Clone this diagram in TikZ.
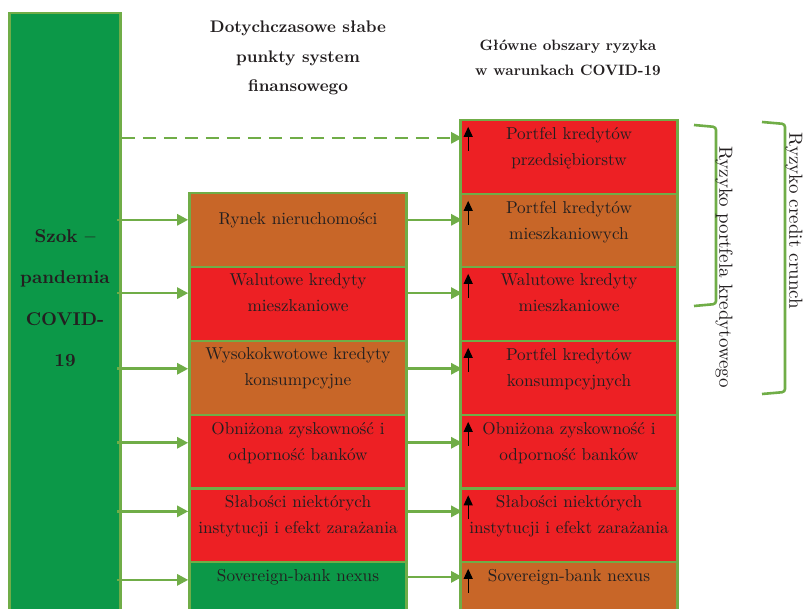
\documentclass[tikz,border=0pt]{standalone}
\usepackage{fontspec}
\setmainfont{lmroman10-regular}[Extension=.otf,BoldFont=lmroman10-bold]
\usepackage{tikz}
\usetikzlibrary{positioning,arrows.meta}
\definecolor{RiskRed}{HTML}{ED2024}
\definecolor{RiskOrange}{HTML}{C86628}
\definecolor{ShockGreen}{HTML}{0C9848}
\definecolor{FrameGreen}{HTML}{70AD47}
\definecolor{InkGray}{HTML}{231F20}
\tikzset{
  cellbox/.style={draw=FrameGreen,line width=2.6pt,
    minimum width=217pt,minimum height=73.7pt,inner sep=0pt},
  redcell/.style={cellbox,fill=RiskRed},
  orgcell/.style={cellbox,fill=RiskOrange},
  grncell/.style={cellbox,fill=ShockGreen},
  celltext/.style={font=\fontsize{17.2}{26}\selectfont,text=InkGray,
    align=center,inner sep=0pt},
  shockbar/.style={draw=FrameGreen,fill=ShockGreen,line width=2.6pt,
    minimum width=111pt,minimum height=696pt,inner sep=0pt},
  shocktext/.style={font=\fontsize{18.5}{41.5}\selectfont\bfseries,
    text=InkGray,align=center,inner sep=0pt},
  headA/.style={font=\fontsize{16.8}{29.5}\selectfont\bfseries,
    text=InkGray,align=center,inner sep=0pt},
  headB/.style={font=\fontsize{15}{25}\selectfont\bfseries,
    text=InkGray,align=center,inner sep=0pt},
  sidetext/.style={font=\fontsize{19}{22}\selectfont,text=InkGray,
    rotate=-90,inner sep=0pt},
  flow/.style={draw=FrameGreen,line width=2.6pt,
    -{Triangle[length=11pt,width=11pt]}},
  flowdash/.style={flow,dash pattern=on 13pt off 8pt},
  upmark/.style={draw=black,line width=1.2pt,
    -{Triangle[length=10pt,width=9pt]}},
  brace/.style={draw=FrameGreen,line width=2.6pt,rounded corners=3pt},
}
\begin{document}
\begin{tikzpicture}[x=1pt,y=-1pt]
  \useasboundingbox (0,0) rectangle (804,609);
  \fill[white] (0,0) rectangle (804,609);
  \clip (0,0) rectangle (804,609);
  % headers
  \node[headA] (hd1) at (298,58) {Dotychczasowe słabe\\punkty system\\finansowego};
  \node[headB] (hd2) at (568,57.5) {Główne obszary ryzyka\\w warunkach COVID-19};
  % shock column
  \node[shockbar] (szok) at (65,361) {};
  \node[shocktext] (szokt) at (65,298) {Szok –\\pandemia\\COVID-\\19};
  % weak points
  \node[orgcell] (m1) at (298,230) {};
  \node[redcell] (m2) at (298,304) {};
  \node[orgcell] (m3) at (298,378) {};
  \node[redcell] (m4) at (298,452) {};
  \node[redcell] (m5) at (298,525.5) {};
  \node[grncell] (m6) at (298,599) {};
  \node[celltext,below=20pt of m1.north] (m1t) {Rynek nieruchomości};
  \node[celltext,below=8pt of m2.north] (m2t) {Walutowe kredyty\\mieszkaniowe};
  \node[celltext,below=8pt of m3.north] (m3t) {Wysokokwotowe kredyty\\konsumpcyjne};
  \node[celltext,below=8pt of m4.north] (m4t) {Obniżona zyskowność i\\odporność banków};
  \node[celltext,below=8pt of m5.north] (m5t) {Słabości niektórych\\instytucji i efekt zarażania};
  \node[celltext,below=8pt of m6.north] (m6t) {Sovereign-bank nexus};
  % risk areas
  \node[redcell] (r1) at (569,157) {};
  \node[orgcell] (r2) at (569,231) {};
  \node[redcell] (r3) at (569,304) {};
  \node[redcell] (r4) at (569,378) {};
  \node[redcell] (r5) at (569,452) {};
  \node[redcell] (r6) at (569,525.5) {};
  \node[orgcell] (r7) at (569,599) {};
  \node[celltext,below=8pt of r1.north] (r1t) {Portfel kredytów\\przedsiębiorstw};
  \node[celltext,below=8pt of r2.north] (r2t) {Portfel kredytów\\mieszkaniowych};
  \node[celltext,below=8pt of r3.north] (r3t) {Walutowe kredyty\\mieszkaniowe};
  \node[celltext,below=8pt of r4.north] (r4t) {Portfel kredytów\\konsumpcyjnych};
  \node[celltext,below=8pt of r5.north] (r5t) {Obniżona zyskowność i\\odporność banków};
  \node[celltext,below=8pt of r6.north] (r6t) {Słabości niektórych\\instytucji i efekt zarażania};
  \node[celltext,below=8pt of r7.north] (r7t) {Sovereign-bank nexus};
  % shock to weak points
  \draw[flowdash] (szok.east |- r1.north) ++(0,19) -- ([xshift=3pt,yshift=-19pt]r1.north west);
  \draw[flow] ([xshift=-5pt]szok.east |- m1t.west) -- (m1.west |- m1t.west);
  \draw[flow] ([xshift=-5pt]szok.east |- m2t.west) -- (m2.west |- m2t.west);
  \draw[flow] ([xshift=-5pt]szok.east |- m3t.west) -- (m3.west |- m3t.west);
  \draw[flow] ([xshift=-5pt]szok.east |- m4t.west) -- (m4.west |- m4t.west);
  \draw[flow] ([xshift=-5pt,yshift=5pt]szok.east |- m5t.west) -- ([yshift=5pt]m5.west |- m5t.west);
  \draw[flow] ([xshift=-5pt,yshift=-3pt]szok.east |- m6t.west) -- ([yshift=-3pt]m6.west |- m6t.west);
  % weak points to risk areas
  \draw[flow] (m1.east |- m1t.west) -- ([xshift=3pt]r2.west |- m1t.west);
  \draw[flow] (m2.east |- m2t.west) -- ([xshift=3pt]r3.west |- m2t.west);
  \draw[flow] (m3.east |- m3t.west) -- ([xshift=3pt]r4.west |- m3t.west);
  \draw[flow] (m4.east |- m4t.west) -- ([xshift=3pt]r5.west |- m4t.west);
  \draw[flow] ([yshift=5pt]m5.east |- m5t.west) -- ([xshift=3pt,yshift=5pt]r6.west |- m5t.west);
  \draw[flow] (m6.east |- m6t.west) -- ([xshift=3pt]r7.west |- m6t.west);
  % rising risk marks
  \draw[upmark] ([xshift=9pt,yshift=-32pt]r1.north west) -- ([xshift=9pt,yshift=-8pt]r1.north west);
  \draw[upmark] ([xshift=9pt,yshift=-32pt]r2.north west) -- ([xshift=9pt,yshift=-8pt]r2.north west);
  \draw[upmark] ([xshift=9pt,yshift=-32pt]r3.north west) -- ([xshift=9pt,yshift=-8pt]r3.north west);
  \draw[upmark] ([xshift=9pt,yshift=-32pt]r4.north west) -- ([xshift=9pt,yshift=-8pt]r4.north west);
  \draw[upmark] ([xshift=9pt,yshift=-32pt]r5.north west) -- ([xshift=9pt,yshift=-8pt]r5.north west);
  \draw[upmark] ([xshift=9pt,yshift=-32pt]r6.north west) -- ([xshift=9pt,yshift=-8pt]r6.north west);
  \draw[upmark] ([xshift=9pt,yshift=-32pt]r7.north west) -- ([xshift=9pt,yshift=-8pt]r7.north west);
  % brackets
  \draw[brace] (694,125) -- (716,127) -- (716,304) -- (694,306);
  \node[sidetext] (pk) at (724,267) {Ryzyko portfela kredytowego};
  \draw[brace] (762,122) -- (785,124) -- (785,392) -- (762,394);
  \node[sidetext] (cc) at (794,221) {Ryzyko credit crunch};
\end{tikzpicture}
\end{document}
